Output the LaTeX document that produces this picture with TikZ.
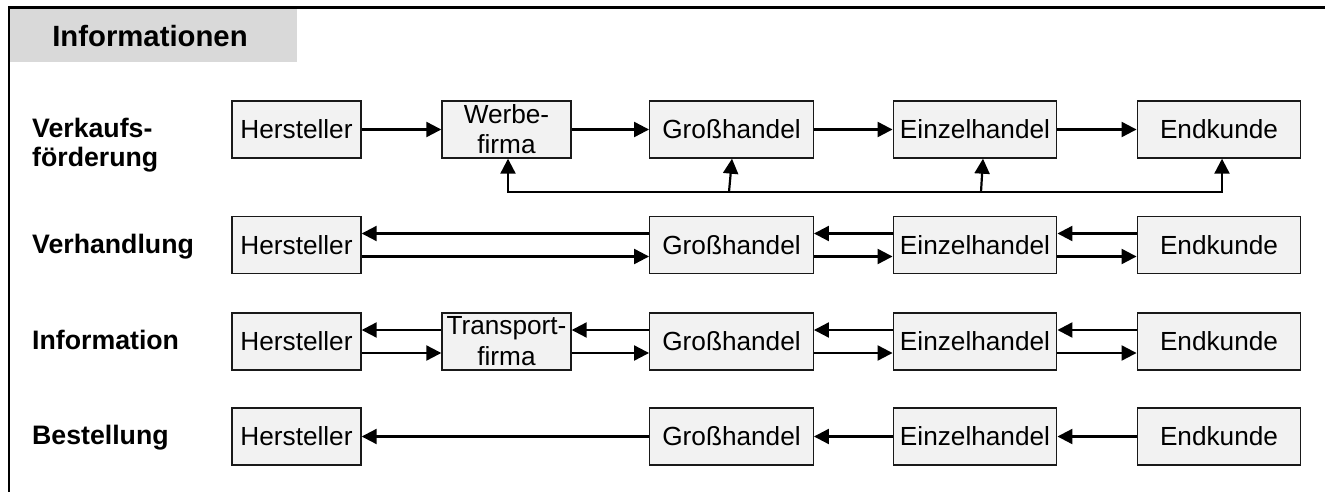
\documentclass[tikz,border=0pt]{standalone}
\usepackage{fontspec}
\setmainfont{Liberation Sans}
\usetikzlibrary{arrows.meta}
\definecolor{boxfill}{RGB}{242,242,242}
\definecolor{headfill}{RGB}{217,217,217}
\definecolor{ink}{RGB}{25,25,25}

\begin{document}
\begin{tikzpicture}[x=1pt,y=-1pt,
  actor/.style={draw=ink, line width=1.4pt, fill=boxfill, minimum height=57pt,
    inner sep=0pt, align=center, font=\fontsize{26.2}{30}\selectfont},
  narrow/.style={actor, minimum width=129pt},
  wide/.style={actor, minimum width=163.5pt},
  rowlabel/.style={inner sep=0pt, align=left, font=\bfseries\fontsize{26.7}{29}\selectfont},
  tip/.tip={Triangle[length=15pt,width=15pt]},
  flow/.style={draw=black, line width=2.2pt, -tip},
]
\useasboundingbox (0,0) rectangle (1325,492);

% frame and title tab
\fill[headfill] (10,8.5) rectangle (297,62);
\draw[line width=2.2pt] (9,500) -- (9,7.5) -- (1335,7.5);
\node[inner sep=0pt, anchor=base, font=\bfseries\fontsize{29.3}{33}\selectfont] (title) at (150,47) {Informationen};

% row labels
\node[rowlabel, anchor=west] (lab1) at (32,145.2) {Verkaufs-\\förderung};
\node[rowlabel, anchor=base west] (lab2) at (32,253) {Verhandlung};
\node[rowlabel, anchor=base west] (lab3) at (32,349.5) {Information};
\node[rowlabel, anchor=base west] (lab4) at (32,444.5) {Bestellung};

% row 1: Verkaufsförderung
\node[narrow] (h1) at (296.5,129.5) {Hersteller};
\node[narrow] (w1) at (506.5,129.5) {Werbe-\\firma};
\node[wide] (g1) at (731.5,129.5) {Großhandel};
\node[wide] (e1) at (975,129.5) {Einzelhandel};
\node[wide] (k1) at (1219,129.5) {Endkunde};

\draw[flow] (h1) -- (w1);
\draw[flow] (w1) -- (g1);
\draw[flow] (g1) -- (e1);
\draw[flow] (e1) -- (k1);

% feedback line under row 1
\coordinate (fbL) at (508,192);
\coordinate (fbR) at (1222,192);
\coordinate (fbG) at (729,192);
\coordinate (fbE) at (981,192);
\draw[line width=2.2pt, tip-tip] (fbL |- w1.south) -- (fbL) -- (fbR) -- (fbR |- k1.south);
\draw[flow] (fbG) -- ([xshift=0.5pt]g1.south);
\draw[flow] (fbE) -- ([xshift=8pt]e1.south);

% row 2: Verhandlung
\node[narrow] (h2) at (296.5,245) {Hersteller};
\node[wide] (g2) at (731.5,245) {Großhandel};
\node[wide] (e2) at (975,245) {Einzelhandel};
\node[wide] (k2) at (1219,245) {Endkunde};

\draw[flow] ([yshift=11.5pt]g2.west) -- ([yshift=11.5pt]h2.east);
\draw[flow] ([yshift=-11.5pt]h2.east) -- ([yshift=-11.5pt]g2.west);
\draw[flow] ([yshift=11.5pt]e2.west) -- ([yshift=11.5pt]g2.east);
\draw[flow] ([yshift=-11.5pt]g2.east) -- ([yshift=-11.5pt]e2.west);
\draw[flow] ([yshift=11.5pt]k2.west) -- ([yshift=11.5pt]e2.east);
\draw[flow] ([yshift=-11.5pt]e2.east) -- ([yshift=-11.5pt]k2.west);

% row 3: Information
\node[narrow] (h3) at (296.5,341.5) {Hersteller};
\node[narrow, font=\fontsize{26.2}{31}\selectfont] (t3) at (506.5,341.5) {Transport-\\firma};
\node[wide] (g3) at (731.5,341.5) {Großhandel};
\node[wide] (e3) at (975,341.5) {Einzelhandel};
\node[wide] (k3) at (1219,341.5) {Endkunde};

\draw[flow] ([yshift=11.5pt]t3.west) -- ([yshift=11.5pt]h3.east);
\draw[flow] ([yshift=-11.5pt]h3.east) -- ([yshift=-11.5pt]t3.west);
\draw[flow] ([yshift=11.5pt]g3.west) -- ([yshift=11.5pt]t3.east);
\draw[flow] ([yshift=-11.5pt]t3.east) -- ([yshift=-11.5pt]g3.west);
\draw[flow] ([yshift=11.5pt]e3.west) -- ([yshift=11.5pt]g3.east);
\draw[flow] ([yshift=-11.5pt]g3.east) -- ([yshift=-11.5pt]e3.west);
\draw[flow] ([yshift=11.5pt]k3.west) -- ([yshift=11.5pt]e3.east);
\draw[flow] ([yshift=-11.5pt]e3.east) -- ([yshift=-11.5pt]k3.west);

% row 4: Bestellung
\node[narrow] (h4) at (296.5,436.5) {Hersteller};
\node[wide] (g4) at (731.5,436.5) {Großhandel};
\node[wide] (e4) at (975,436.5) {Einzelhandel};
\node[wide] (k4) at (1219,436.5) {Endkunde};

\draw[flow] (g4) -- (h4);
\draw[flow] (e4) -- (g4);
\draw[flow] (k4) -- (e4);
\end{tikzpicture}
\end{document}
